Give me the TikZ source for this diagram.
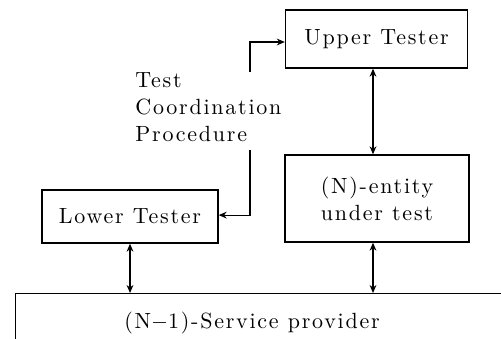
\documentclass[tikz,border=0pt]{standalone}
\usepackage{fontspec}
\setmainfont{Latin Modern Roman}[LetterSpace=8]
\usetikzlibrary{arrows.meta}
\tikzset{
  box/.style={draw, line width=0.7pt, inner sep=0pt, font=\fontsize{11}{13.5}\selectfont},
  link/.style={line width=0.6pt},
  tip/.style={-{Stealth[length=4pt,width=3.4pt]}},
  both/.style={{Stealth[length=4pt,width=3.4pt]}-{Stealth[length=4pt,width=3.4pt]}},
}
\begin{document}
\begin{tikzpicture}[x=0.5pt,y=-0.5pt]
\useasboundingbox (0,0) rectangle (501,338);
\clip (0,0) rectangle (501,338);
% testers and the entity under test
\node[box, minimum width=91pt, minimum height=29pt] (ut) at (376.5,39) {Upper Tester};
\node[box, minimum width=92pt, minimum height=43.5pt, align=center] (nut) at (377,198.5) {(N)-entity\\under test};
\node[box, minimum width=88pt, minimum height=26.5pt] (lt) at (130,216.5) {Lower Tester};
% service provider, running off the right and bottom edges
\node[box, minimum width=260pt, minimum height=40pt, anchor=north west] (sp) at (15,293) {};
\node[font=\fontsize{11}{13.5}\selectfont, anchor=base] (spt) at (252,328) {(N${-}$1)-Service provider};
% test coordination procedure
\node[font=\fontsize{11}{13.5}\selectfont, align=left, anchor=north west, inner sep=0pt] (tcp) at (135,72)
  {Test\\Coordination\\Procedure};
\coordinate (cu) at (250,72);
\coordinate (cl) at (250,150);
\draw[link, tip] (cu) |- ([yshift=-1.5pt]ut.west);
\draw[link, tip] (cl) |- ([yshift=0.7pt]lt.east);
% vertical exchanges
\draw[link, both] (ut.south -| 373,0) -- (nut.north -| 373,0);
\draw[link, both] (nut.south -| 373,0) -- (sp.north -| 373,0);
\draw[link, both] (lt.south) -- (sp.north -| lt.south);
\end{tikzpicture}
\end{document}
